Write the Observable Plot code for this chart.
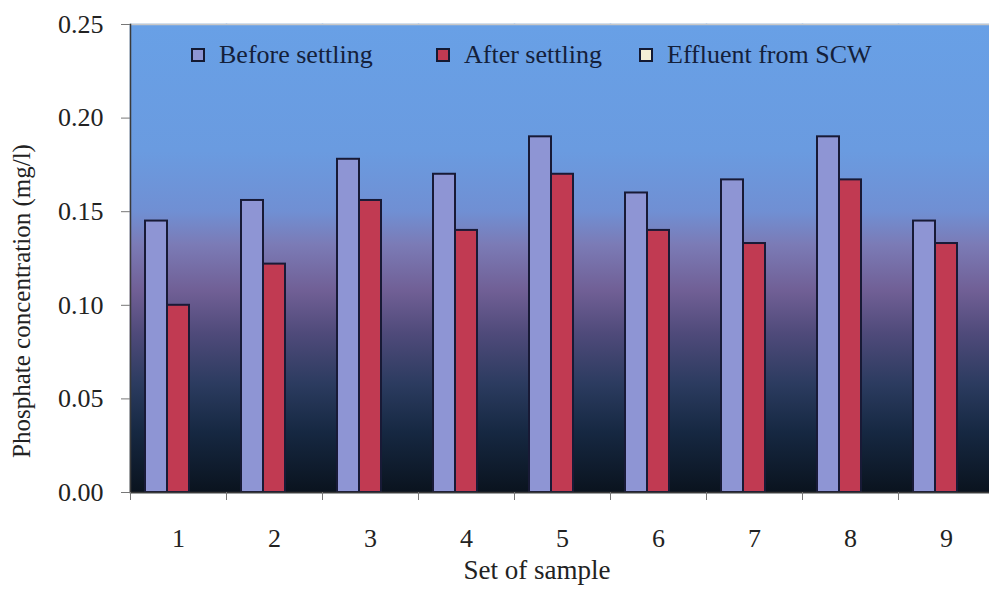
<!DOCTYPE html>
<html>
<head>
<meta charset="utf-8">
<script src="https://cdn.jsdelivr.net/npm/d3@7"></script>
<script src="https://cdn.jsdelivr.net/npm/@observablehq/plot@0.6"></script>
<style>
html, body { margin: 0; padding: 0; background: #fff; overflow: hidden; }
#wrap { position: relative; width: 989px; height: 589px; font-family: "Liberation Serif", "Times New Roman", serif; color: #222; }
#legend { position: absolute; top: 38px; left: 0; width: 989px; height: 34px; font-size: 26px; color: #14203a; }
#legend .item { position: absolute; top: 0; white-space: nowrap; line-height: 34px; }
#legend .sw { display: inline-block; width: 10px; height: 10px; border: 2px solid #141a33; margin-right: 14px; vertical-align: 1px; }
#ytitle { position: absolute; left: 22px; top: 301px; transform: translate(-50%, -50%) rotate(-90deg); white-space: nowrap; font-size: 25px; color: #222; }
#xtitle { position: absolute; left: 0; width: 1074px; text-align: center; top: 555px; font-size: 27px; line-height: 30px; color: #222; }
</style>
</head>
<body>
<div id="wrap"></div>
<script>
// ---- data ----
const samples = ["1", "2", "3", "4", "5", "6", "7", "8", "9"];
const seriesNames = ["Before settling", "After settling", "Effluent from SCW"];
const beforeSettling = [0.145, 0.156, 0.178, 0.170, 0.190, 0.160, 0.167, 0.190, 0.145];
const afterSettling  = [0.100, 0.122, 0.156, 0.140, 0.170, 0.140, 0.133, 0.167, 0.133];
const effluentSCW    = [0, 0, 0, 0, 0, 0, 0, 0, 0];
const yTicks = [0, 0.05, 0.10, 0.15, 0.20, 0.25];
const yTitle = "Phosphate concentration (mg/l)";
const xTitle = "Set of sample";

const seriesColors = ["#8e95d4", "#c13a52", "#f4efd6"];
const seriesValues = [beforeSettling, afterSettling, effluentSCW];
const data = samples.flatMap((s, i) =>
  seriesNames.map((name, k) => ({ sample: s, series: name, value: seriesValues[k][i] }))
);

const wrap = document.getElementById("wrap");

const plot = Plot.plot({
  width: 989,
  height: 558,
  marginLeft: 130,
  marginTop: 24,
  marginRight: 0,
  marginBottom: 66,
  style: { fontFamily: "'Liberation Serif', 'Times New Roman', serif", color: "#222", background: "transparent" },
  fx: { domain: samples, range: [130, 994], paddingInner: 0, paddingOuter: 0, label: null },
  x: { domain: seriesNames, paddingInner: 0, paddingOuter: 0.68, axis: null },
  y: { domain: [0, 0.25], label: null },
  color: { domain: seriesNames, range: seriesColors },
  marks: [
    Plot.frame({ fill: "url(#bgGrad)", stroke: "url(#bgGrad)", strokeWidth: 1.5 }),
    Plot.barY(data.filter(d => d.series !== seriesNames[2]), {
      fx: "sample", x: "series", y: "value", fill: "series",
      stroke: "#181a36", strokeWidth: 2, inset: 0
    }),
    Plot.barY(data.filter(d => d.series === seriesNames[2]), {
      fx: "sample", x: "series", y: "value", fill: "series", inset: 0
    }),
    Plot.ruleY([0.25], { stroke: "#c8c8c8", strokeWidth: 1.5 }),
    Plot.ruleY([0], { stroke: "#3a3a3a", strokeWidth: 1.5 }),
    Plot.frame({ anchor: "left", facetAnchor: "left", stroke: "#3a3a3a", strokeWidth: 1.5 }),
    Plot.axisY(yTicks, {
      tickFormat: d3.format(".2f"), tickSize: 9, tickPadding: 18,
      fontSize: 26, stroke: "#777", fill: "#222", label: null
    }),
    Plot.axisFx({ anchor: "bottom", tickSize: 0, tickPadding: 36, fontSize: 26, fill: "#222", label: null }),
    Plot.axisFx({ anchor: "bottom", text: null, tickSize: 8, dx: -48, stroke: "#777", label: null })
  ]
});

// vertical background gradient for the plot area
const ns = "http://www.w3.org/2000/svg";
const defs = document.createElementNS(ns, "defs");
const grad = document.createElementNS(ns, "linearGradient");
grad.setAttribute("id", "bgGrad");
grad.setAttribute("x1", "0"); grad.setAttribute("y1", "0");
grad.setAttribute("x2", "0"); grad.setAttribute("y2", "1");
[
  [0.00, "#68a0e6"],
  [0.27, "#6a9be0"],
  [0.40, "#708fd3"],
  [0.47, "#7b7bb6"],
  [0.57, "#705f95"],
  [0.66, "#4f4a7a"],
  [0.77, "#2b3b5f"],
  [0.87, "#162842"],
  [1.00, "#0a131e"]
].forEach(([o, c]) => {
  const st = document.createElementNS(ns, "stop");
  st.setAttribute("offset", o);
  st.setAttribute("stop-color", c);
  grad.appendChild(st);
});
defs.appendChild(grad);
const svgEl = plot.tagName.toLowerCase() === "svg" ? plot : plot.querySelector("svg");
svgEl.insertBefore(defs, svgEl.firstChild);

wrap.appendChild(plot);

// legend inside plot area
const legend = document.createElement("div");
legend.id = "legend";
const legendLeft = [191, 436, 639];
seriesNames.forEach((name, k) => {
  const it = document.createElement("div");
  it.className = "item";
  it.style.left = legendLeft[k] + "px";
  const sw = document.createElement("span");
  sw.className = "sw";
  sw.style.background = seriesColors[k];
  it.appendChild(sw);
  it.appendChild(document.createTextNode(name));
  legend.appendChild(it);
});
wrap.appendChild(legend);

const yt = document.createElement("div");
yt.id = "ytitle";
yt.textContent = yTitle;
wrap.appendChild(yt);

const xt = document.createElement("div");
xt.id = "xtitle";
xt.textContent = xTitle;
wrap.appendChild(xt);
</script>
</body>
</html>
